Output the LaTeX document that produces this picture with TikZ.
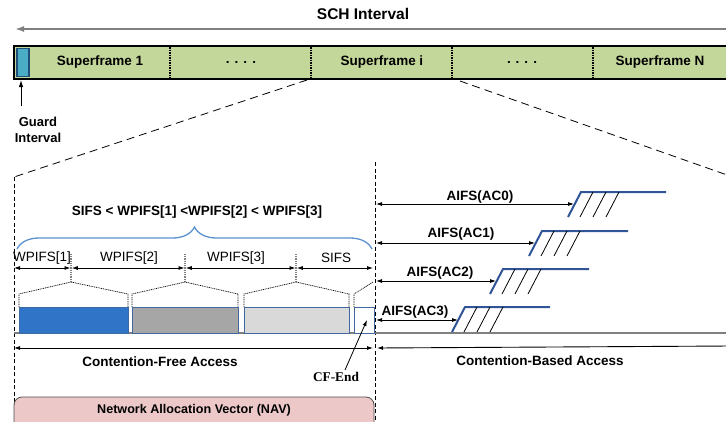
\documentclass[tikz,border=0pt]{standalone}
\usepackage{fontspec}
\setmainfont{Liberation Sans}
\newfontfamily\timesfont{Liberation Serif}
\usetikzlibrary{arrows.meta,decorations.pathreplacing}

\definecolor{framegreen}{RGB}{196,215,155}
\definecolor{guardblue}{RGB}{75,172,198}
\definecolor{guardedge}{RGB}{31,78,121}
\definecolor{stepblue}{RGB}{47,85,151}
\definecolor{bracecol}{RGB}{91,145,205}
\definecolor{blockblue}{RGB}{48,116,200}
\definecolor{blockgray}{RGB}{166,166,166}
\definecolor{blocklight}{RGB}{217,217,217}
\definecolor{blockedge}{RGB}{65,105,160}
\definecolor{navpink}{RGB}{236,201,200}

\tikzset{
  lbl/.style={font=\fontsize{13.5}{16}\selectfont\bfseries, inner sep=0pt},
  seglbl/.style={font=\fontsize{13.5}{16}\selectfont, inner sep=0pt},
  divider/.style={line width=2.4pt, dash pattern=on 1.6pt off 0.9pt},
  zoomline/.style={line width=0.8pt, dash pattern=on 8pt off 5pt},
  sepline/.style={line width=0.8pt, dash pattern=on 4pt off 2.5pt},
  dim/.style={line width=0.8pt, {Latex[length=6pt,width=4pt]}-{Latex[length=6pt,width=4pt]}},
  house/.style={line width=0.7pt, dash pattern=on 1pt off 0.8pt},
  tick/.style={line width=1.6pt, gray, dash pattern=on 1pt off 0.8pt},
  block/.style={draw=blockedge, line width=0.8pt},
  stepline/.style={stepblue, line width=2pt},
  hatch/.style={line width=0.8pt},
}

% back-off step: #1 bottom x, #2 bottom y, #3 end of top line, #4 name
\newcommand\aifsstep[4]{%
  \coordinate (#4b) at (#1,#2);
  \coordinate (#4t) at ({#1+13},{#2-25});
  \coordinate (#4e) at (#3,{#2-25});
  \coordinate (#4m) at ({#1+6},{#2-12.5});
  \draw[stepline] (#4b) -- (#4t) -- (#4e);
  \foreach \k in {0,1,2}
    \draw[hatch] ({#1+12+13*\k},#2) -- ({#1+25+13*\k},{#2-25});
}

\begin{document}
\begin{tikzpicture}[x=1pt,y=-1pt]
\useasboundingbox (0,0) rectangle (726,421);

% ---- SCH interval arrow
\node[font=\fontsize{15.5}{18}\selectfont\bfseries, inner sep=0pt] (sch) at (363,14) {SCH Interval};
\coordinate (schL) at (15,29);
\coordinate (schR) at (730,29);
\draw[gray, line width=1.6pt, -{Latex[length=9pt,width=6pt]}] (schR) -- (schL);

% ---- superframe bar
\draw[fill=framegreen, line width=2pt] (14,46) rectangle (735,79);
\draw[fill=guardblue, draw=guardedge, line width=1.5pt] (17,48.5) rectangle (29,76.5);
\foreach \x in {170,311,452,593} \draw[divider] (\x,47) -- (\x,78);
\node[lbl] (sf1) at (100,62) {Superframe 1};
\node[lbl] (dots1) at (241,62) {. . . .};
\node[lbl] (sfi) at (382,62) {Superframe i};
\node[lbl] (dots2) at (522,62) {. . . .};
\node[lbl] (sfn) at (660,62) {Superframe N};

% ---- guard interval
\node[align=center, inner sep=0pt, font=\fontsize{13}{16}\selectfont\bfseries] (guard) at (38,130) {Guard\\Interval};
\coordinate (gtop) at (21,80);
\coordinate (gbot) at (21,106);
\draw[line width=0.9pt, -{Latex[length=7pt,width=4.5pt]}] (gbot) -- (gtop);

% ---- zoom lines to superframe i
\coordinate (zl0) at (307,80);
\coordinate (zl1) at (14,177);
\coordinate (zr0) at (460,81);
\coordinate (zr1) at (730,176);
\coordinate (zlb) at (14,425);
\coordinate (sepTop) at (375,162);
\coordinate (sepBot) at (375,425);
\draw[zoomline] (zl0) -- (zl1);
\draw[zoomline] (zr0) -- (zr1);
\draw[sepline] (zl1) -- (zlb);
\draw[sepline] (sepTop) -- (sepBot);

% ---- inequality and brace
\node[lbl] (ineq) at (197,212) {SIFS < WPIFS[1] <WPIFS[2] < WPIFS[3]};
\coordinate (brL) at (17,249);
\coordinate (brR) at (372,249);
\draw[bracecol, line width=1.3pt, decorate, decoration={brace, amplitude=22pt}] (brL) -- (brR);

% ---- waiting intervals
\node[seglbl] (w1) at (42,258) {WPIFS[1]};
\node[seglbl] (w2) at (129,258) {WPIFS[2]};
\node[seglbl] (w3) at (236,258) {WPIFS[3]};
\node[seglbl] (sifs) at (336,258) {SIFS};
\coordinate (d0) at (14,268);
\coordinate (d1) at (71,268);
\coordinate (d2) at (185,268);
\coordinate (d3) at (296,268);
\coordinate (d4) at (373,268);
\draw[dim] (d0) -- ([xshift=-0.5pt]d1);
\draw[dim] ([xshift=0.8pt]d1) -- ([xshift=-0.5pt]d2);
\draw[dim] ([xshift=0.8pt]d2) -- ([xshift=-0.5pt]d3);
\draw[dim] ([xshift=0.8pt]d3) -- (d4);
\foreach \x in {71,185,296} \draw[tick] (\x,254) -- (\x,282);

% ---- frame outlines
\draw[house] (19,307) -- (19,294) -- (71,282) -- (128,294) -- (128,307);
\draw[house] (132,307) -- (132,294) -- (185,282) -- (238,294) -- (238,307);
\draw[house] (244,307) -- (244,294) -- (296,282) -- (349,294) -- (349,307);
\draw[house] (354,307) -- (354,294) -- (373,282);

% ---- baseline
\draw[gray, line width=1.3pt] (14,333) -- (730,333);

% ---- frames
\draw[block, fill=blockblue] (19,307) rectangle (128,333);
\draw[block, fill=blockgray] (132,307) rectangle (238,333);
\draw[block, fill=blocklight] (244,307) rectangle (349,333);
\draw[block, fill=white] (354,307) rectangle (374,333);
\coordinate (cfbox) at (367,320);

% ---- access periods
\coordinate (cfa0) at (14,348);
\coordinate (cfa1) at (373,348);
\draw[dim] (cfa0) -- (cfa1);
\node[lbl] (cfa) at (160,362) {Contention-Free Access};
\coordinate (cba0) at (377,348);
\coordinate (cba1) at (730,346);
\draw[line width=0.9pt, {Latex[length=6pt,width=4pt]}-] (cba0) -- (cba1);
\node[lbl] (cba) at (540,361) {Contention-Based Access};

% ---- CF-End
\node[inner sep=0pt, font=\fontsize{13.3}{16}\selectfont\timesfont\bfseries] (cfend) at (336,377) {CF-End};
\coordinate (cfarrow) at (345,370);
\draw[line width=0.8pt, -{Latex[length=6pt,width=4pt]}] (cfarrow) -- (cfbox);

% ---- NAV
\draw[fill=navpink, draw=black!70, line width=0.8pt, rounded corners=8pt] (14,397) rectangle (374,440);
\node[font=\fontsize{12.6}{15}\selectfont\bfseries, inner sep=0pt] (nav) at (194,410) {Network Allocation Vector (NAV)};

% ---- AIFS back-off steps
\aifsstep{568}{217}{666}{acz}
\aifsstep{529}{256}{628}{aco}
\aifsstep{490}{294}{589}{act}
\aifsstep{452}{332}{550}{acr}

\coordinate (a0) at (376,204);
\coordinate (a1) at (376,243);
\coordinate (a2) at (376,281);
\coordinate (a3) at (376,320);
\draw[dim] (a0) -- (aczm |- a0);
\draw[dim] (a1) -- (acom |- a1);
\draw[dim] (a2) -- (actm |- a2);
\draw[dim] (a3) -- (acrm |- a3);
\node[lbl] (l0) at (480,197) {AIFS(AC0)};
\node[lbl] (l1) at (461,234) {AIFS(AC1)};
\node[lbl] (l2) at (440,273) {AIFS(AC2)};
\node[lbl] (l3) at (415,312) {AIFS(AC3)};
\end{tikzpicture}
\end{document}
